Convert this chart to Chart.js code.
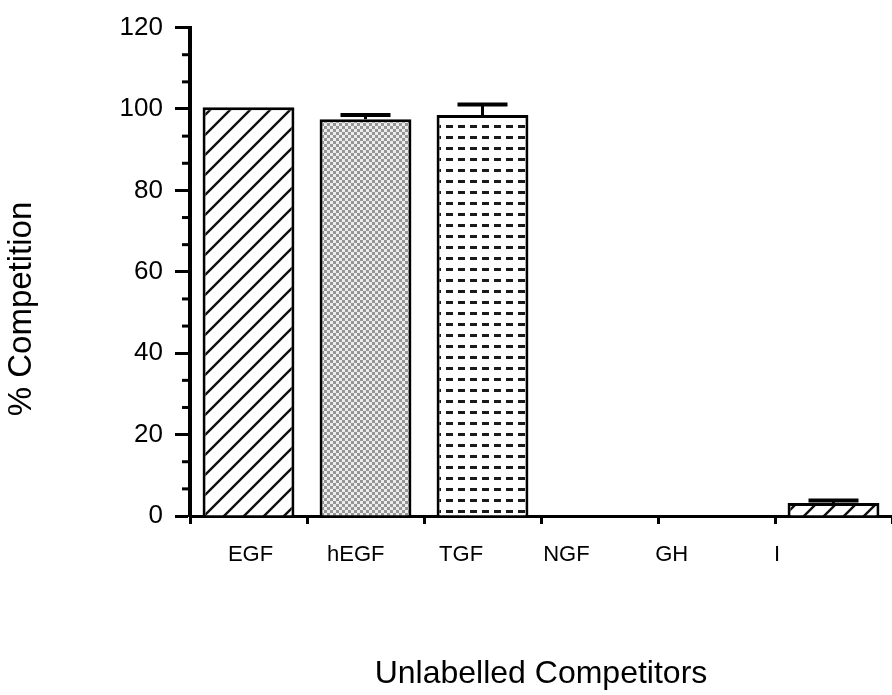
<!DOCTYPE html>
<html>
<head>
<meta charset="utf-8">
<script src="https://cdn.jsdelivr.net/npm/chart.js@4.4.1/dist/chart.umd.min.js"></script>
<style>
  html, body { margin: 0; padding: 0; background: #ffffff; }
  #wrap { width: 892px; height: 695px; }
</style>
</head>
<body>
<div id="wrap"><canvas id="c" width="892" height="695"></canvas></div>
<script>
// Competitors tested and the % competition each one produced
const competitors = ['EGF', 'hEGF', 'TGF', 'NGF', 'GH', 'I'];
const competition = [100.4, 97.5, 98.5, 0, 0, 3.2];
const competitionErr = [0, 1.0, 2.6, 0, 0, 0.6];
const yTicks = [0, 20, 40, 60, 80, 100, 120];

const FONT = "'Liberation Sans', Arial, Helvetica, sans-serif";

// ---- fill patterns ----
function makePattern(w, h, draw) {
  const cv = document.createElement('canvas');
  cv.width = w; cv.height = h;
  const g = cv.getContext('2d');
  g.fillStyle = '#ffffff';
  g.fillRect(0, 0, w, h);
  draw(g);
  return g.createPattern(cv, 'repeat');
}
// diagonal hatching
const hatch = makePattern(20, 20, g => {
  g.strokeStyle = '#111'; g.lineWidth = 2.4;
  g.beginPath();
  g.moveTo(-2, 22); g.lineTo(22, -2);
  g.moveTo(-12, 12); g.lineTo(12, -12);
  g.moveTo(8, 32); g.lineTo(32, 8);
  g.stroke();
});
// fine grey halftone
const halftone = makePattern(6, 6, g => {
  g.fillStyle = '#ececec'; g.fillRect(0, 0, 6, 6);
  g.fillStyle = '#969696';
  g.fillRect(0, 0, 3, 3); g.fillRect(3, 3, 3, 3);
});
// rows of short dashes
const dashes = makePattern(12, 11, g => {
  g.fillStyle = '#1a1a1a';
  g.fillRect(2, 4, 7, 3);
});
const fills = [hatch, halftone, dashes, '#ffffff', '#ffffff', hatch];

// minor ticks on the y axis, three intervals between labelled ticks
const minorTicks = {
  id: 'minorTicks',
  afterDraw(chart) {
    const y = chart.scales.y, ctx = chart.ctx;
    ctx.save();
    ctx.strokeStyle = '#000'; ctx.lineWidth = 3;
    const step = 20 / 3;
    for (let k = 0; k <= 18; k++) {
      if (k % 3 === 0) continue;
      const py = y.getPixelForValue(k * step);
      ctx.beginPath();
      ctx.moveTo(chart.chartArea.left - 8, py);
      ctx.lineTo(chart.chartArea.left, py);
      ctx.stroke();
    }
    ctx.restore();
  }
};

// upper error bars
const errorBars = {
  id: 'errorBars',
  afterDatasetsDraw(chart) {
    const ctx = chart.ctx, x = chart.scales.x, y = chart.scales.y;
    ctx.save();
    ctx.strokeStyle = '#000';
    competition.forEach((v, i) => {
      const e = competitionErr[i];
      if (!e) return;
      const px = x.getPixelForValue(i);
      const top = y.getPixelForValue(v + e);
      const base = y.getPixelForValue(v);
      ctx.lineWidth = 3;
      ctx.beginPath(); ctx.moveTo(px, base); ctx.lineTo(px, top); ctx.stroke();
      ctx.lineWidth = 4;
      ctx.beginPath(); ctx.moveTo(px - 25, top); ctx.lineTo(px + 25, top); ctx.stroke();
    });
    ctx.restore();
  }
};

// category names and the y title
const axisText = {
  id: 'axisText',
  afterDraw(chart) {
    const ctx = chart.ctx, x = chart.scales.x, area = chart.chartArea;
    ctx.save();
    ctx.fillStyle = '#000';
    ctx.font = '22px ' + FONT;
    ctx.textAlign = 'center';
    ctx.textBaseline = 'middle';
    const c0 = x.getPixelForValue(0);
    competitors.forEach((name, i) => {
      const px = c0 + (x.getPixelForValue(i) - c0) * 0.9 + 2;
      ctx.fillText(name, px, area.bottom + 39);
    });
    ctx.font = '33px ' + FONT;
    ctx.translate(22, 309);
    ctx.rotate(-Math.PI / 2);
    ctx.fillText('% Competition', 0, 0);
    ctx.restore();
  }
};

new Chart(document.getElementById('c'), {
  type: 'bar',
  data: {
    labels: competitors,
    datasets: [{
      data: competition,
      backgroundColor: fills,
      borderColor: '#000',
      borderWidth: 3,
      barPercentage: 0.785,
      categoryPercentage: 1.0
    }]
  },
  options: {
    responsive: false,
    animation: false,
    devicePixelRatio: 1,
    layout: { padding: { top: 27, right: 0, left: 0, bottom: 0 } },
    plugins: { legend: { display: false }, tooltip: { enabled: false } },
    scales: {
      x: {
        offset: true,
        grid: { offset: true, drawOnChartArea: false, tickLength: 8, tickWidth: 3, tickColor: '#000' },
        border: { display: true, color: '#000', width: 3 },
        ticks: { display: false },
        title: {
          display: true, text: 'Unlabelled Competitors', color: '#000',
          font: { family: FONT, size: 32 }, padding: { top: 0, bottom: 2 }
        },
        afterFit(s) { s.height = 179; }
      },
      y: {
        min: 0, max: 120,
        afterBuildTicks(s) { s.ticks = yTicks.map(v => ({ value: v })); },
        grid: { drawOnChartArea: false, tickLength: 15, tickWidth: 3, tickColor: '#000' },
        border: { display: true, color: '#000', width: 4 },
        ticks: { color: '#000', padding: 12, font: { family: FONT, size: 26 } },
        afterFit(s) { s.width = 190; }
      }
    }
  },
  plugins: [minorTicks, errorBars, axisText]
});
</script>
</body>
</html>
